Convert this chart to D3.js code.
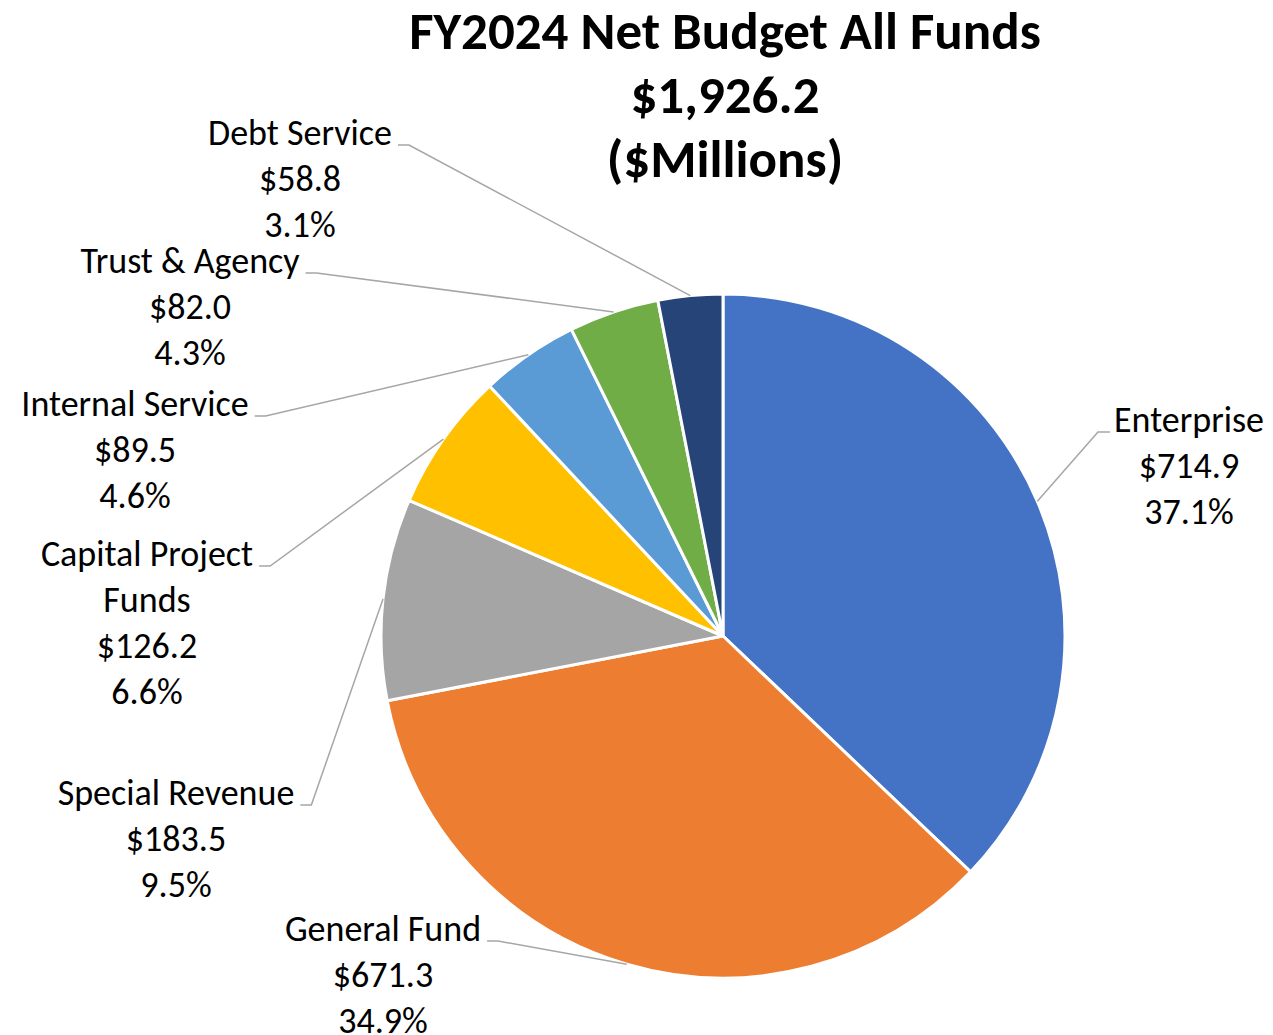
<!DOCTYPE html>
<html>
<head>
<meta charset="utf-8">
<script src="https://cdn.jsdelivr.net/npm/d3@7"></script>
<style>
  html, body { margin: 0; padding: 0; background: #fff; }
  svg { display: block; }
  text { font-family: Carlito, Lato, "Open Sans", sans-serif; fill: #000; }
</style>
</head>
<body>
<svg id="chart" width="1273" height="1035"></svg>
<script>
// ---- data ----
const categories = ["Enterprise", "General Fund", "Special Revenue", "Capital Project Funds", "Internal Service", "Trust & Agency", "Debt Service"];
const labelLines = [["Enterprise"], ["General Fund"], ["Special Revenue"], ["Capital Project", "Funds"], ["Internal Service"], ["Trust & Agency"], ["Debt Service"]];
const values = [714.9, 671.3, 183.5, 126.2, 89.5, 82.0, 58.8];
const colors = ["#4472C4", "#ED7D31", "#A5A5A5", "#FFC000", "#5B9BD5", "#70AD47", "#264478"];
const titleLines = ["FY2024 Net Budget All Funds", "$1,926.2", "($Millions)"];

// ---- layout ----
const W = 1273, H = 1035;
const cx = 723, cy = 636, R = 342;
// label block centre x, first-line centre y, side
const labelPos = [
  {x: 1189, y: 420, side: "right"},
  {x: 383,  y: 929, side: "left"},
  {x: 176,  y: 793, side: "left"},
  {x: 147,  y: 554, side: "left"},
  {x: 135,  y: 404, side: "left"},
  {x: 190,  y: 261, side: "left"},
  {x: 300,  y: 133, side: "left"}
];
const lineGap = 46;
const fontSize = 36;

const svg = d3.select("#chart");
const total = d3.sum(values);
const fmtPct = d3.format(".1%");
const fmtVal = v => "$" + d3.format(",.1f")(v);

// title
svg.append("g").selectAll("text").data(titleLines).join("text")
  .attr("x", 725).attr("y", (d, i) => 31 + i * 64)
  .attr("text-anchor", "middle").attr("dominant-baseline", "central")
  .style("font-weight", "bold").style("font-size", "53px")
  .text(d => d);

const pie = d3.pie().sort(null).value(d => d)(values);
const arc = d3.arc().innerRadius(0).outerRadius(R);

const g = svg.append("g").attr("transform", `translate(${cx},${cy})`);
g.selectAll("path").data(pie).join("path")
  .attr("d", arc)
  .attr("fill", (d, i) => colors[i])
  .attr("stroke", "#fff").attr("stroke-width", 3).attr("stroke-linejoin", "round");

// labels
const lg = svg.append("g");
pie.forEach((d, i) => {
  const p = labelPos[i];
  const lines = [...labelLines[i], fmtVal(values[i]), fmtPct(values[i] / total)];
  const t = lg.append("g");
  const texts = t.selectAll("text").data(lines).join("text")
    .attr("x", p.x).attr("y", (s, k) => p.y + k * lineGap)
    .attr("text-anchor", "middle").attr("dominant-baseline", "central")
    .style("font-size", fontSize + "px")
    .text(s => s);
  const firstW = texts.nodes()[0].getComputedTextLength();
  const mid = (d.startAngle + d.endAngle) / 2;
  const ex = cx + R * Math.sin(mid), ey = cy - R * Math.cos(mid);
  const ay = p.y + 12;
  let x1, x2;
  if (p.side === "left") { x1 = p.x + firstW / 2 + 6; x2 = x1 + 11; }
  else { x1 = p.x - firstW / 2 - 4; x2 = x1 - 12; }
  lg.append("polyline")
    .attr("points", `${x1},${ay} ${x2},${ay} ${ex},${ey}`)
    .attr("fill", "none").attr("stroke", "#A6A6A6").attr("stroke-width", 1.5);
});
</script>
</body>
</html>
